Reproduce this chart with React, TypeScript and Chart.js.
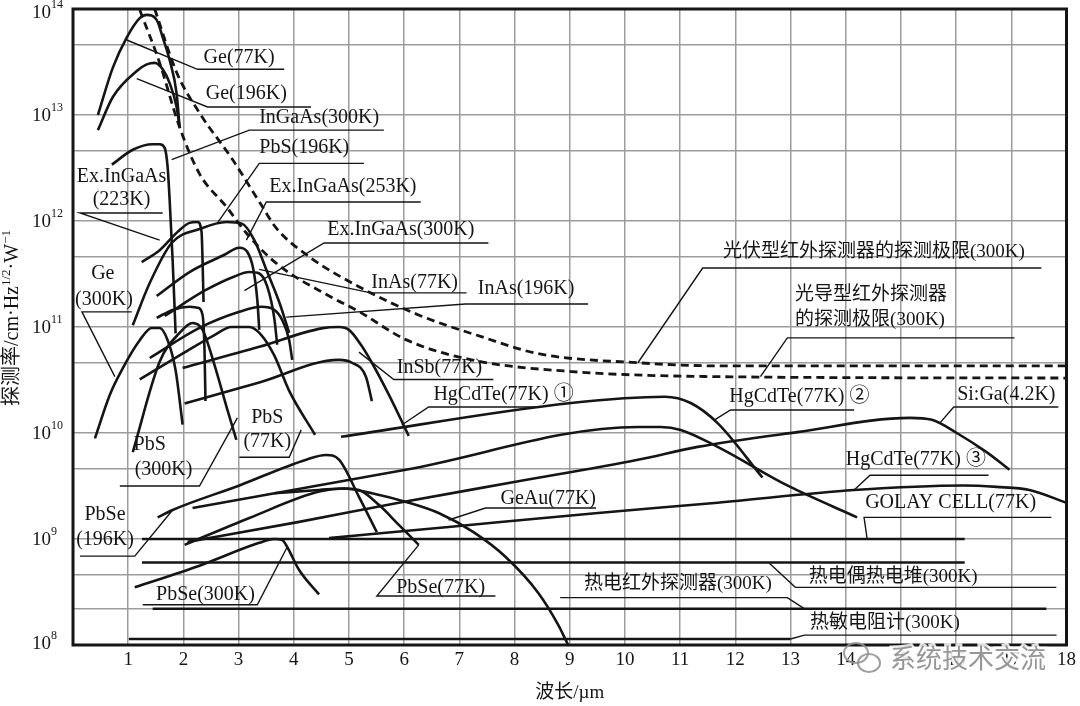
import React, { useEffect, useRef } from "react";
import { Chart, registerables } from "chart.js";

Chart.register(...registerables);

type P = [number, number];

// ---- axes ----
const X_TICKS = [0, 1, 2, 3, 4, 5, 6, 7, 8, 9, 10, 11, 12, 13, 14, 15, 16, 17, 18];
const Y_DECADES = [8, 9, 10, 11, 12, 13, 14];
const Y_GRID = [1e8, 2.19e8, 4.57e8, 1e9, 4.57e9, 1e10, 4.57e10, 1e11, 4.57e11, 1e12, 4.57e12, 1e13, 4.57e13, 1e14];

// ---- limits (dashed) ----
const PV_LIMIT: P[] = [[1.48, 1.0e14], [1.88, 2.5e13], [2.29, 1.05e13], [2.89, 3.8e12], [3.41, 1.42e12], [3.68, 8.6e11], [4.28, 4.6e11], [5.18, 2.4e11], [6.26, 1.3e11], [7.4, 8.1e10], [8.43, 5.6e10], [10.23, 4.6e10], [11.68, 4.3e10], [18.0, 4.3e10]];
const PC_LIMIT: P[] = [[1.21, 9.8e13], [1.57, 3.1e13], [1.93, 7.7e12], [2.29, 2.8e12], [2.78, 1.36e12], [3.14, 7.7e11], [3.68, 4.0e11], [4.69, 1.9e11], [5.18, 1.4e11], [6.03, 7.6e10], [7.22, 4.9e10], [9.03, 3.8e10], [11.68, 3.4e10], [18.0, 3.3e10]];

// ---- detector curves ----
const GE_77K: P[] = [[0.451, 1.0e13], [0.722, 2.8e13], [0.975, 5.4e13], [1.209, 8.2e13], [1.336, 8.8e13], [1.516, 7.9e13], [1.625, 5.4e13], [1.751, 3.3e13], [1.877, 1.6e13], [1.931, 7.7e12]];
const GE_196K: P[] = [[0.451, 7.2e12], [0.722, 1.48e13], [1.155, 2.6e13], [1.336, 3.0e13], [1.48, 3.1e13], [1.625, 2.7e13], [1.751, 2.0e13], [1.877, 1.19e13], [1.931, 7.7e12]];
const INGAAS_300K: P[] = [[0.704, 3.4e12], [1.083, 4.7e12], [1.444, 5.3e12], [1.57, 5.3e12], [1.661, 4.9e12], [1.715, 3.2e12], [1.751, 1.58e12], [1.805, 4.3e11], [1.859, 8.7e10]];
const EX_INGAAS_223K: P[] = [[1.245, 4.1e11], [1.57, 5.3e11], [1.895, 7.9e11], [2.112, 9.6e11], [2.256, 9.8e11], [2.329, 7.9e11], [2.347, 4.3e11], [2.365, 1.72e11]];
const PBS_196K: P[] = [[1.083, 1.04e11], [1.39, 2.6e11], [1.787, 6.2e11], [2.292, 8.4e11], [2.78, 9.8e11], [3.069, 9.4e11], [3.285, 6.6e11], [3.52, 3.3e11], [3.736, 1.72e11], [3.917, 8.8e10]];
const EX_INGAAS_253K: P[] = [[1.516, 1.96e11], [2.112, 3.3e11], [2.744, 4.8e11], [3.014, 5.6e11], [3.159, 5.1e11], [3.267, 3.5e11], [3.339, 1.8e11], [3.375, 9.4e10]];
const EX_INGAAS_300K: P[] = [[1.516, 1.22e11], [1.805, 1.45e11], [2.112, 1.55e11], [2.256, 1.52e11], [2.347, 1.3e11], [2.383, 6.0e10], [2.4, 2.0e10]];
const INAS_77K: P[] = [[1.661, 1.27e11], [2.383, 2.2e11], [2.924, 3.0e11], [3.195, 3.3e11], [3.375, 3.2e11], [3.52, 2.4e11], [3.646, 1.22e11], [3.7, 6.8e10]];
const INAS_196K: P[] = [[1.39, 5.1e10], [2.292, 9.8e10], [3.014, 1.39e11], [3.412, 1.55e11], [3.646, 1.45e11], [3.791, 1.16e11], [3.917, 7.5e10], [3.971, 4.9e10]];
const GE_300K: P[] = [[0.397, 8.9e9], [0.668, 2.3e10], [0.903, 4.1e10], [1.209, 7.5e10], [1.426, 9.8e10], [1.57, 9.8e10], [1.715, 7.5e10], [1.859, 3.9e10], [1.986, 1.2e10]];
const PBS_300K: P[] = [[1.083, 6.6e9], [1.57, 4.7e10], [1.931, 8.8e10], [2.166, 1.09e11], [2.347, 9.4e10], [2.563, 4.4e10], [2.798, 1.65e10], [2.96, 8.6e9]];
const PBS_77K: P[] = [[1.209, 3.2e10], [1.931, 5.4e10], [2.563, 8.4e10], [2.87, 1.0e11], [3.195, 1.0e11], [3.412, 8.4e10], [3.646, 5.4e10], [3.917, 2.5e10], [4.386, 9.6e9]];
const INSB_77K: P[] = [[1.986, 4.1e10], [3.375, 6.5e10], [4.5, 9.7e10], [4.82, 1.0e11], [5.0, 9.4e10], [5.217, 6.8e10], [5.415, 4.6e10], [5.722, 2.3e10], [6.083, 9.4e9]];
const MID_CURVE: P[] = [[2.022, 1.9e10], [3.375, 3.0e10], [4.82, 4.9e10], [5.054, 4.6e10], [5.307, 3.4e10], [5.415, 2.0e10]];
const HGCDTE_1: P[] = [[4.856, 9.2e9], [9.025, 1.92e10], [10.722, 2.2e10], [11.191, 1.92e10], [11.679, 1.24e10], [12.491, 3.8e9]];
const HGCDTE_2: P[] = [[2.166, 1.96e9], [6.029, 4.5e9], [10.235, 1.14e10], [10.65, 1.14e10], [11.011, 1.07e10], [11.679, 7.4e9], [12.942, 3.2e9], [14.206, 1.6e9]];
const HGCDTE_3: P[] = [[4.639, 1.02e9], [6.805, 1.3e9], [9.513, 1.76e9], [11.679, 2.2e9], [14.152, 2.9e9], [16.137, 3.2e9], [16.733, 3.1e9], [17.329, 2.9e9], [17.996, 2.2e9]];
const SI_GA: P[] = [[2.076, 9.4e8], [4.097, 1.45e9], [5.903, 2.2e9], [8.069, 3.5e9], [10.235, 5.6e9], [11.318, 7.4e9], [13.123, 1.02e10], [15.162, 1.39e10], [15.56, 1.33e10], [16.011, 1.0e10], [16.552, 6.6e9], [16.968, 4.5e9]];
const GEAU_77K: P[] = [[3.646, 2.7e9], [4.458, 2.9e9], [4.91, 3.0e9], [5.415, 2.7e9], [6.083, 2.2e9], [6.625, 1.76e9], [7.256, 1.16e9], [7.834, 6.8e8], [8.43, 3.1e8], [8.791, 1.55e8], [8.971, 1.0e8]];
const PBSE_196K: P[] = [[1.534, 1.6e9], [1.805, 1.88e9], [3.014, 3.2e9], [4.224, 5.6e9], [4.585, 6.2e9], [4.819, 5.6e9], [5.181, 2.5e9], [5.505, 1.16e9]];
const PBSE_77K: P[] = [[2.022, 8.8e8], [3.195, 1.58e9], [4.458, 2.8e9], [4.91, 3.0e9], [5.181, 2.9e9], [5.542, 2.1e9], [5.903, 1.36e9], [6.264, 8.8e8]];
const PBSE_300K: P[] = [[1.119, 3.5e8], [2.292, 5.6e8], [3.375, 9.2e8], [3.646, 1.0e9], [3.791, 9.8e8], [3.881, 8.4e8], [4.097, 5.1e8], [4.458, 3.0e8]];
const GOLAY_77K: P[] = [[1.25, 1.0e9], [16.155, 1.0e9]];
const THERMOPILE_300K: P[] = [[1.25, 6.0e8], [16.155, 6.0e8]];
const PYRO_300K: P[] = [[1.444, 2.2e8], [17.635, 2.2e8]];
const BOLOMETER_300K: P[] = [[1.011, 1.14e8], [13.0, 1.14e8]];

// ---- label leader lines ----
const LEADERS: P[][] = [
  [[0.975, 5.1e13], [2.256, 2.7e13], [3.827, 2.7e13]],
  [[1.155, 2.2e13], [2.437, 1.19e13], [4.314, 1.19e13]],
  [[1.787, 3.8e12], [3.195, 7.2e12], [5.632, 7.2e12]],
  [[2.617, 9.6e11], [3.375, 3.5e12], [5.271, 3.5e12]],
  [[3.141, 6.6e11], [3.502, 1.51e12], [6.3, 1.51e12]],
  [[3.105, 2.2e11], [4.549, 6.2e11], [7.527, 6.2e11]],
  [[1.57, 6.6e11], [0.126, 1.19e12], [1.625, 1.19e12]],
  [[0.758, 3.4e10], [0.162, 1.39e11], [1.065, 1.39e11]],
  [[3.375, 3.5e11], [5.397, 2.1e11], [7.13, 2.1e11]],
  [[3.863, 1.24e11], [7.112, 1.65e11], [9.332, 1.65e11]],
  [[5.181, 5.8e10], [5.812, 3.2e10], [7.617, 3.2e10]],
  [[5.957, 1.19e10], [6.444, 1.76e10], [8.43, 1.76e10]],
  [[2.978, 1.39e10], [2.292, 3.16e9], [0.848, 3.16e9]],
  [[4.134, 1.07e10], [3.917, 5.9e9], [3.014, 5.9e9]],
  [[1.805, 1.88e9], [1.119, 6.9e8], [0.126, 6.9e8]],
  [[3.881, 8.4e8], [3.339, 2.4e8], [1.264, 2.4e8]],
  [[6.264, 8.8e8], [5.505, 2.9e8], [7.653, 2.9e8]],
  [[6.805, 1.51e9], [7.473, 1.96e9], [9.477, 1.96e9]],
  [[10.235, 4.6e10], [11.408, 3.6e11], [17.545, 3.6e11]],
  [[12.455, 3.4e10], [12.942, 7.9e10], [17.058, 7.9e10]],
  [[11.625, 1.33e10], [11.913, 1.65e10], [14.152, 1.65e10]],
  [[15.704, 1.24e10], [15.957, 1.76e10], [17.852, 1.76e10]],
  [[14.152, 2.9e9], [14.44, 4.0e9], [16.588, 4.0e9]],
  [[14.386, 1.02e9], [14.332, 1.6e9], [17.726, 1.6e9]],
  [[12.617, 5.9e8], [13.087, 3.5e8], [17.816, 3.5e8]],
  [[13.249, 2.2e8], [12.942, 2.8e8], [8.827, 2.8e8]],
  [[13.0, 1.14e8], [13.25, 1.24e8], [17.82, 1.24e8]],
];

// ---- label texts (text, x µm, D*) ----
const LABEL_TEXT = [
  "Ge(77K)", "Ge(196K)", "InGaAs(300K)", "PbS(196K)", "Ex.InGaAs(253K)", "Ex.InGaAs(300K)",
  "Ex.InGaAs", "(223K)", "Ge", "(300K)", "InAs(77K)", "InAs(196K)", "InSb(77K)", "HgCdTe(77K) ①",
  "PbS", "(300K)", "PbS", "(77K)", "PbSe", "(196K)", "PbSe(300K)", "PbSe(77K)", "GeAu(77K)",
  "热电红外探测器(300K)", "热电偶热电堆(300K)", "热敏电阻计(300K)", "GOLAY CELL(77K)",
  "HgCdTe(77K) ③", "HgCdTe(77K) ②", "Si:Ga(4.2K)",
  "光伏型红外探测器的探测极限(300K)", "光导型红外探测器", "的探测极限(300K)",
];
const LABEL_X = [
  3.01, 3.14, 4.46, 4.19, 4.89, 5.94,
  0.88, 0.88, 0.54, 0.56, 6.19, 8.21, 6.64, 7.8,
  1.39, 1.64, 3.52, 3.52, 0.58, 0.58, 2.4, 6.66, 8.61,
  10.96, 14.86, 14.71, 15.9,
  15.27, 13.16, 16.91,
  14.51, 14.46, 14.44,
];
const LABEL_Y = [
  3.45e13, 1.6e13, 9.4e12, 4.9e12, 2.1e12, 8.2e11,
  2.6e12, 1.58e12, 3.2e11, 1.8e11, 2.6e11, 2.3e11, 4.1e10, 2.3e10,
  7.7e9, 4.5e9, 1.39e10, 8.2e9, 1.68e9, 9.8e8, 3.0e8, 3.5e8, 2.4e9,
  3.8e8, 4.4e8, 1.6e8, 2.2e9,
  5.6e9, 2.2e10, 2.3e10,
  5.1e11, 2.0e11, 1.16e11,
];

const X_TITLE = "波长/µm";
const Y_TITLE: [string, boolean][] = [["探测率/cm·Hz", false], ["1/2", true], ["·W", false], ["−1", true]];
const WATERMARK = "系统技术交流";

const INK = "#151515";
const GRID = "#9c9c9c";
const SERIF = '"Liberation Serif", "Noto Sans CJK SC", serif';

const CURVES: P[][] = [
  GE_77K, GE_196K, INGAAS_300K, EX_INGAAS_223K, PBS_196K, EX_INGAAS_253K, EX_INGAAS_300K,
  INAS_77K, INAS_196K, GE_300K, PBS_300K, PBS_77K, INSB_77K, MID_CURVE,
  HGCDTE_1, HGCDTE_2, HGCDTE_3, SI_GA, GEAU_77K, PBSE_196K, PBSE_77K, PBSE_300K,
];
const FLATS: P[][] = [GOLAY_77K, THERMOPILE_300K, PYRO_300K, BOLOMETER_300K];

const toPts = (d: P[]) => d.map(([x, y]) => ({ x, y }));

export default function App() {
  const ref = useRef<HTMLCanvasElement | null>(null);

  useEffect(() => {
    if (!ref.current) return;
    const datasets: any[] = [];
    [PV_LIMIT, PC_LIMIT].forEach((d) =>
      datasets.push({
        data: toPts(d), showLine: true, pointRadius: 0, borderColor: INK, borderWidth: 2.8,
        borderDash: [8, 5], cubicInterpolationMode: "monotone", fill: false, clip: 4,
      })
    );
    CURVES.forEach((d) =>
      datasets.push({
        data: toPts(d), showLine: true, pointRadius: 0, borderColor: INK, borderWidth: 2.6,
        cubicInterpolationMode: "monotone", fill: false,
      })
    );
    FLATS.forEach((d) =>
      datasets.push({ data: toPts(d), showLine: true, pointRadius: 0, borderColor: INK, borderWidth: 2.4, fill: false })
    );
    LEADERS.forEach((d) =>
      datasets.push({ data: toPts(d), showLine: true, pointRadius: 0, borderColor: INK, borderWidth: 1.4, fill: false, tension: 0 })
    );

    const frame = {
      id: "frame",
      beforeDatasetsDraw(chart: any) {
        const { ctx, chartArea: a } = chart;
        ctx.save();
        ctx.strokeStyle = INK;
        ctx.lineWidth = 3;
        ctx.strokeRect(a.left, a.top, a.right - a.left, a.bottom - a.top);
        ctx.restore();
      },
    };

    const texts = {
      id: "texts",
      afterDraw(chart: any) {
        const { ctx, scales, chartArea: a } = chart;
        const xs = scales.x;
        const ys = scales.y;
        ctx.save();
        ctx.fillStyle = INK;
        ctx.textAlign = "center";
        ctx.textBaseline = "middle";
        LABEL_TEXT.forEach((t, i) => {
          const cjk = /[\u4e00-\u9fff]/.test(t);
          ctx.font = `${cjk ? 19 : 20}px ${SERIF}`;
          ctx.fillText(t, xs.getPixelForValue(LABEL_X[i]), ys.getPixelForValue(LABEL_Y[i]));
        });

        // y decade labels 10^n
        Y_DECADES.forEach((d) => {
          let py = ys.getPixelForValue(Math.pow(10, d));
          if (d === 14) py += 3;
          if (d === 8) py -= 2;
          ctx.font = `19px ${SERIF}`;
          ctx.textAlign = "right";
          ctx.textBaseline = "middle";
          ctx.fillText("10", 51, py + 1);
          ctx.font = `12px ${SERIF}`;
          ctx.textAlign = "left";
          ctx.fillText(String(d), 51, py - 7);
        });

        // y title (rotated, with superscripts)
        ctx.save();
        ctx.translate(13, 318);
        ctx.rotate(-Math.PI / 2);
        let total = 0;
        Y_TITLE.forEach(([s, sup]) => {
          ctx.font = `${sup ? 13 : 20}px ${SERIF}`;
          total += ctx.measureText(s).width;
        });
        let cx = -total / 2;
        ctx.textAlign = "left";
        ctx.textBaseline = "middle";
        Y_TITLE.forEach(([s, sup]) => {
          ctx.font = `${sup ? 13 : 20}px ${SERIF}`;
          ctx.fillText(s, cx, sup ? -6 : 0);
          cx += ctx.measureText(s).width;
        });
        ctx.restore();

        // x title
        ctx.font = `19px ${SERIF}`;
        ctx.textAlign = "center";
        ctx.textBaseline = "middle";
        ctx.fillText(X_TITLE, (a.left + a.right) / 2, 693);

        // watermark
        ctx.strokeStyle = "rgba(150,150,150,0.9)";
        ctx.lineWidth = 2;
        ctx.beginPath();
        ctx.ellipse(856, 653, 12, 10, 0, 0, Math.PI * 2);
        ctx.stroke();
        ctx.beginPath();
        ctx.ellipse(869, 663, 11, 9, 0, 0, Math.PI * 2);
        ctx.stroke();
        ctx.font = `26px "Noto Sans CJK SC", sans-serif`;
        ctx.lineWidth = 5;
        ctx.strokeStyle = "rgba(255,255,255,0.85)";
        ctx.strokeText(WATERMARK, 968, 658);
        ctx.fillStyle = "rgba(140,140,140,0.9)";
        ctx.fillText(WATERMARK, 968, 658);
        ctx.restore();
      },
    };

    const chart = new Chart(ref.current, {
      type: "scatter",
      data: { datasets },
      options: {
        animation: false,
        responsive: false,
        devicePixelRatio: 1,
        layout: { padding: { top: 9, right: 10, left: 0, bottom: 0 } },
        plugins: { legend: { display: false }, tooltip: { enabled: false } },
        scales: {
          x: {
            type: "linear",
            min: 0,
            max: 18,
            afterBuildTicks: (s: any) => {
              s.ticks = X_TICKS.map((v) => ({ value: v }));
            },
            afterFit: (s: any) => {
              s.height = 61;
            },
            ticks: {
              autoSkip: false,
              maxRotation: 0,
              padding: 4,
              color: INK,
              font: { family: "Liberation Serif", size: 19 },
              callback: (v: any) => (v === 0 ? "" : String(v)),
            },
            grid: { color: GRID, lineWidth: 1.5, drawTicks: false },
            border: { display: false },
          },
          y: {
            type: "logarithmic",
            min: 1e8,
            max: 1e14,
            afterBuildTicks: (s: any) => {
              s.ticks = Y_GRID.map((v) => ({ value: v }));
            },
            afterFit: (s: any) => {
              s.width = 73;
            },
            ticks: { display: false },
            grid: { color: GRID, lineWidth: 1.5, drawTicks: false },
            border: { display: false },
          },
        },
      } as any,
      plugins: [frame, texts],
    });
    return () => chart.destroy();
  }, []);

  return (
    <div style={{ position: "fixed", left: 0, top: 0, width: 1080, height: 706, background: "#fff" }}>
      <canvas ref={ref} width={1080} height={706} style={{ display: "block" }} />
    </div>
  );
}
